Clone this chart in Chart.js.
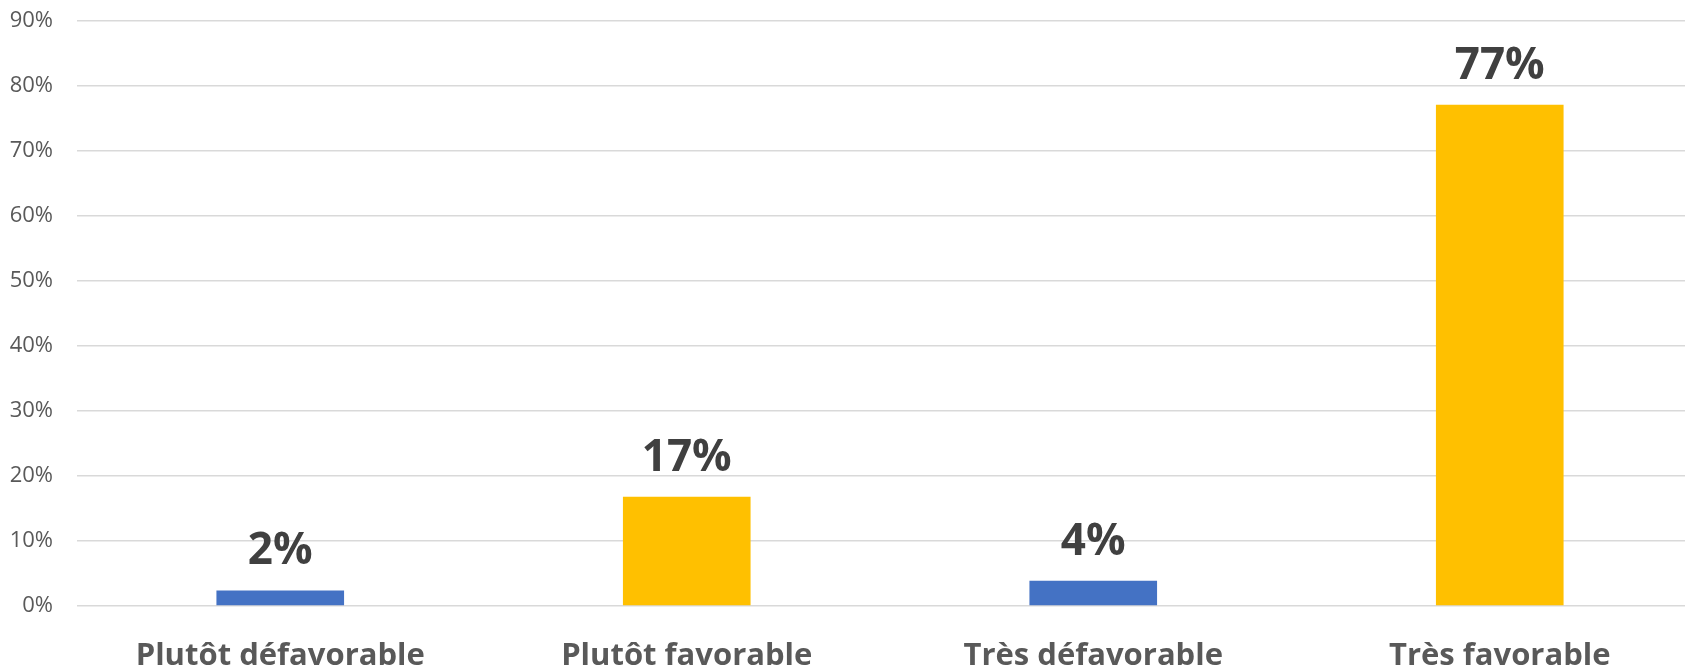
<!DOCTYPE html>
<html>
<head>
<meta charset="utf-8">
<script src="https://cdn.jsdelivr.net/npm/chart.js@4.4.1/dist/chart.umd.min.js"></script>
<style>
  html, body { margin: 0; padding: 0; background: #fff; overflow: hidden; }
  #wrap { width: 1703px; height: 670px; }
</style>
</head>
<body>
<div id="wrap"><canvas id="chart"></canvas></div>
<script>
const categories = ['Plutôt défavorable', 'Plutôt favorable', 'Très défavorable', 'Très favorable'];
const values = [2.4, 16.8, 3.9, 77.1];
const barColors = ['#4472C4', '#FFC000', '#4472C4', '#FFC000'];
const yTicks = [0, 10, 20, 30, 40, 50, 60, 70, 80, 90];

// draw the big value labels above each bar
const valueLabels = {
  id: 'valueLabels',
  afterDatasetsDraw(c) {
    const ctx = c.ctx;
    const meta = c.getDatasetMeta(0);
    ctx.save();
    ctx.font = 'bold 44px "Open Sans"';
    ctx.fillStyle = '#404040';
    ctx.textAlign = 'center';
    ctx.textBaseline = 'alphabetic';
    meta.data.forEach((bar, i) => {
      ctx.fillText(Math.round(values[i]) + '%', bar.x, bar.y - 26);
    });
    ctx.restore();
  },
};

new Chart(document.getElementById('chart'), {
  type: 'bar',
  data: {
    labels: categories,
    datasets: [{
      data: values,
      backgroundColor: barColors,
      categoryPercentage: 1,
      barPercentage: 0.314,
    }],
  },
  options: {
    responsive: true,
    maintainAspectRatio: false,
    animation: false,
    layout: { padding: { top: 21, left: 0, right: 0, bottom: 0 } },
    plugins: { legend: { display: false }, tooltip: { enabled: false } },
    scales: {
      x: {
        grid: { display: false, drawTicks: false },
        border: { display: false },
        ticks: {
          color: '#595959',
          font: { family: 'Open Sans', size: 31, weight: 'bold' },
          padding: 32,
        },
        afterFit(scale) { scale.height = 64; },
      },
      y: {
        min: 0,
        max: 90,
        afterBuildTicks(scale) { scale.ticks = yTicks.map(v => ({ value: v })); },
        grid: { color: '#d9d9d9', lineWidth: 1.5, drawTicks: false },
        border: { display: false },
        ticks: {
          color: '#595959',
          font: { family: 'Open Sans', size: 22 },
          padding: 24,
          callback: v => v + '%',
        },
        afterFit(scale) {
          scale.width = 77;
          scale.paddingTop = 0;
          scale.paddingBottom = 0;
        },
      },
    },
  },
  plugins: [valueLabels],
});
</script>
</body>
</html>
